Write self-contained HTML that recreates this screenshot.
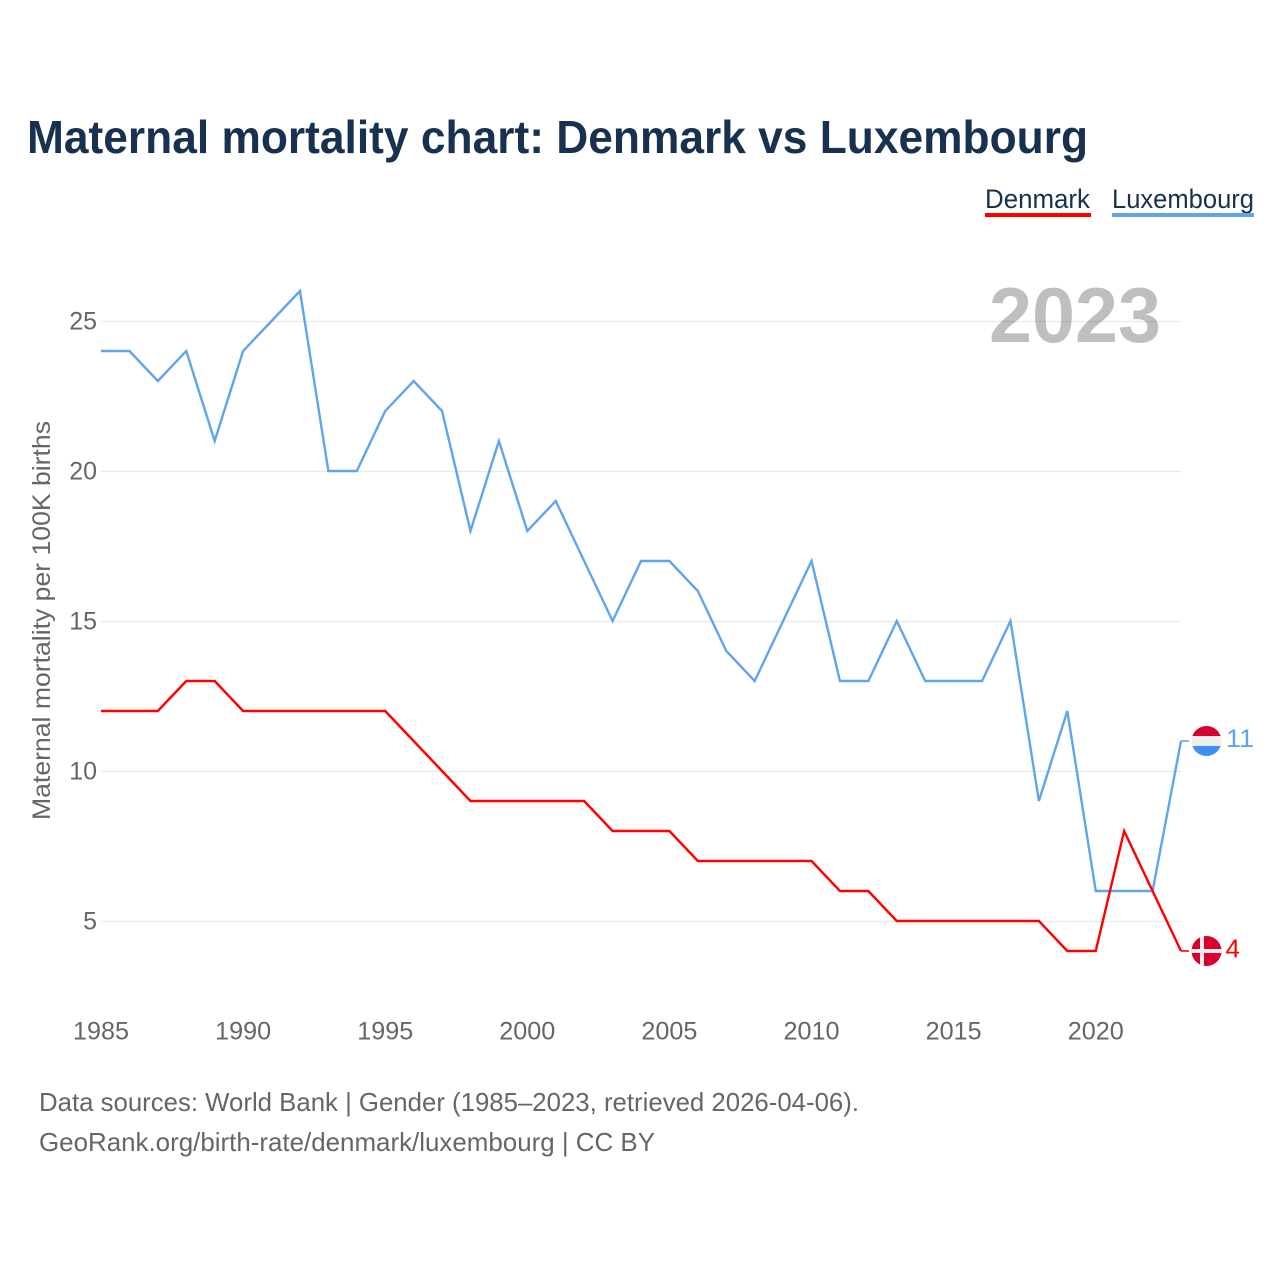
<!DOCTYPE html>
<html>
<head>
<meta charset="utf-8">
<title>Maternal mortality chart: Denmark vs Luxembourg</title>
<style>
html,body{margin:0;padding:0;background:#fff;}
svg{display:block;font-family:"Liberation Sans",sans-serif;}
</style>
</head>
<body>
<svg id="chart" width="1280" height="1280" viewBox="0 0 1280 1280" xmlns="http://www.w3.org/2000/svg">
  <text x="27" y="153" font-size="46" font-weight="700" fill="#17314f" textLength="1061" lengthAdjust="spacingAndGlyphs">Maternal mortality chart: Denmark vs Luxembourg</text>

  <g>
    <text x="985" y="208" font-size="27" fill="#17314f" textLength="105" lengthAdjust="spacingAndGlyphs">Denmark</text>
    <rect x="985" y="213" width="106" height="4" fill="#ff0000"/>
  </g>
  <g>
    <text x="1112" y="208" font-size="27" fill="#17314f" textLength="142" lengthAdjust="spacingAndGlyphs">Luxembourg</text>
    <rect x="1112" y="213" width="142" height="4" fill="#60a5ec"/>
  </g>

  <g id="grid"></g>
  <g id="yticks"></g>
  <g id="xticks"></g>

  <text x="989" y="342" font-size="78" font-weight="700" fill="#000000" fill-opacity="0.25" textLength="172" lengthAdjust="spacingAndGlyphs">2023</text>

  <text transform="translate(50,820) rotate(-90)" font-size="25" fill="#666666" textLength="399" lengthAdjust="spacingAndGlyphs">Maternal mortality per 100K births</text>

  <g id="series"></g>

  <g id="flag-lu">
    <clipPath id="clip-lu"><circle cx="1206.5" cy="741" r="15"/></clipPath>
    <g clip-path="url(#clip-lu)">
      <rect x="1191" y="726" width="31" height="10" fill="#d8002c"/>
      <rect x="1191" y="736" width="31" height="10" fill="#eeeeee"/>
      <rect x="1191" y="746" width="31" height="10" fill="#3f8ff5"/>
    </g>
  </g>
  <g id="flag-dk">
    <clipPath id="clip-dk"><circle cx="1206.5" cy="951" r="15"/></clipPath>
    <g clip-path="url(#clip-dk)">
      <rect x="1191" y="936" width="31" height="31" fill="#d8002c"/>
      <rect x="1191" y="949" width="31" height="4" fill="#eeeeee"/>
      <rect x="1200" y="936" width="4" height="31" fill="#eeeeee"/>
    </g>
  </g>
  <text x="1226" y="747" font-size="25" fill="#60a5ec" textLength="28" lengthAdjust="spacingAndGlyphs">11</text>
  <text x="1225.5" y="957.5" font-size="26" fill="#ff0000">4</text>

  <text x="39" y="1111" font-size="26" fill="#666666" textLength="820" lengthAdjust="spacingAndGlyphs">Data sources: World Bank | Gender (1985–2023, retrieved 2026-04-06).</text>
  <text x="39" y="1151" font-size="26" fill="#666666" textLength="616" lengthAdjust="spacingAndGlyphs">GeoRank.org/birth-rate/denmark/luxembourg | CC BY</text>
</svg>
<script>
const years = [1985,1986,1987,1988,1989,1990,1991,1992,1993,1994,1995,1996,1997,1998,1999,2000,2001,2002,2003,2004,2005,2006,2007,2008,2009,2010,2011,2012,2013,2014,2015,2016,2017,2018,2019,2020,2021,2022,2023];
const denmarkValues = [12,12,12,13,13,12,12,12,12,12,12,11,10,9,9,9,9,9,8,8,8,7,7,7,7,7,6,6,5,5,5,5,5,5,4,4,8,6,4];
const luxembourgValues = [24,24,23,24,21,24,25,26,20,20,22,23,22,18,21,18,19,17,15,17,17,16,14,13,15,17,13,13,15,13,13,13,15,9,12,6,6,6,11];
const yTickValues = [5,10,15,20,25];
const xTickValues = [1985,1990,1995,2000,2005,2010,2015,2020];

const NS = 'http://www.w3.org/2000/svg';
function xScale(year){ return 101 + (year - 1985) * (1181 - 101) / (2023 - 1985); }
function yScale(value){ return 1071 - value * 30; }
function make(tag, attrs, parent){
  const el = document.createElementNS(NS, tag);
  for (const k in attrs) el.setAttribute(k, attrs[k]);
  parent.appendChild(el);
  return el;
}
const grid = document.getElementById('grid');
const yticks = document.getElementById('yticks');
const xticks = document.getElementById('xticks');
const series = document.getElementById('series');

yTickValues.forEach(function(v){
  const line = make('line', {x1:101, x2:1181, y1:yScale(v)+0.5, y2:yScale(v)+0.5, stroke:'#e9e9e9', 'stroke-width':1.3}, grid);
  
  
  const t = make('text', {x:97, y:yScale(v)+8.5, 'font-size':25, fill:'#666666', 'text-anchor':'end'}, yticks);
  
  
  t.textContent = v;
});
xTickValues.forEach(function(y){
  const t = make('text', {x:xScale(y), y:1039.5, 'font-size':25, fill:'#666666', 'text-anchor':'middle', textLength:56, lengthAdjust:'spacingAndGlyphs'}, xticks);
  
  
  t.textContent = y;
});
function drawLine(values, color, name){
  const pts = values.map(function(v,i){ return xScale(years[i]).toFixed(2) + ',' + yScale(v); });
  const p = make('polyline', {points:pts.join(' '), fill:'none', stroke:color, 'stroke-width':2.4, 'stroke-linejoin':'miter'}, series);
  
  
  const last = values[values.length-1];
  const lastX = xScale(years[years.length-1]);
  const c = make('line', {x1:lastX, x2:lastX+8, y1:yScale(last), y2:yScale(last), stroke:color, 'stroke-width':1.6}, series);
  
  
}
drawLine(luxembourgValues, '#60a5ec', 'luxembourg-line');
drawLine(denmarkValues, '#ff0000', 'denmark-line');
</script>
</body>
</html>
